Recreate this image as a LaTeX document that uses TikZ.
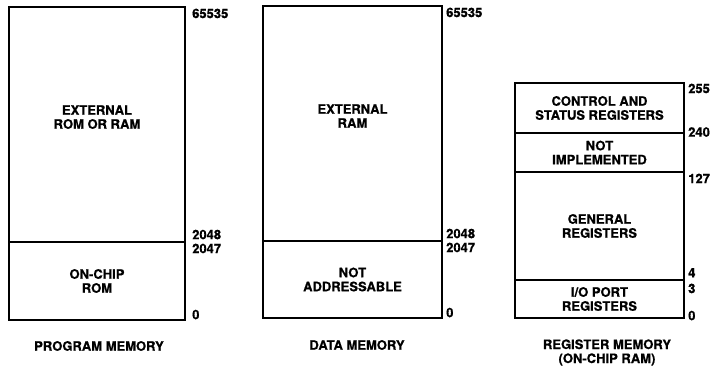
\documentclass[tikz,border=0pt]{standalone}
\usepackage{fontspec}
\setmainfont[BoldFeatures={FakeBold=0.6}]{TeX Gyre Heros}
\usetikzlibrary{positioning}
\newcommand{\memfont}{\fontsize{13}{14}\selectfont\bfseries}
\tikzset{
  region/.style ={draw, line width=2.6pt, align=center, font=\memfont, inner sep=0pt, outer sep=0pt},
  addr/.style   ={font=\memfont, inner sep=0pt},
  caption/.style={font=\memfont, align=center},
}

\begin{document}
\begin{tikzpicture}[x=1pt, y=-1pt]
  \useasboundingbox (0,0) rectangle (720,368);
  % program memory
  \node[region, minimum width=176pt, minimum height=235pt, text depth=15pt] (extrom) at (97,124.5) {EXTERNAL\\ROM OR RAM};
  \node[region, minimum width=176pt, minimum height=78pt, below=0pt of extrom] (onchip) {ON-CHIP\\ROM};
  \node[addr, anchor=north west] (p65535) at ([xshift=7pt,yshift=-1.5pt]extrom.north east) {65535};
  \node[addr, anchor=south west] (p2048) at ([xshift=7pt,yshift=2.5pt]extrom.south east) {2048};
  \node[addr, anchor=north west] (p2047) at ([xshift=7pt,yshift=-1.5pt]onchip.north east) {2047};
  \node[addr, anchor=south west] (p0) at ([xshift=7pt,yshift=0.5pt]onchip.south east) {0};
  \node[caption] (progmem) at (99,346) {PROGRAM MEMORY};
  % data memory
  \node[region, minimum width=179pt, minimum height=235pt, text depth=15pt] (extram) at (352.5,123.5) {EXTERNAL\\RAM};
  \node[region, minimum width=179pt, minimum height=77pt, below=0pt of extram] (notaddr) {NOT\\ADDRESSABLE};
  \node[addr, anchor=north west] (d65535) at ([xshift=4pt,yshift=-1.5pt]extram.north east) {65535};
  \node[addr, anchor=south west] (d2048) at ([xshift=4pt,yshift=2.5pt]extram.south east) {2048};
  \node[addr, anchor=north west] (d2047) at ([xshift=4pt,yshift=-1.5pt]notaddr.north east) {2047};
  \node[addr, anchor=south west] (d0) at ([xshift=4pt,yshift=0.5pt]notaddr.south east) {0};
  \node[caption] (datamem) at (357,345) {DATA MEMORY};
  % register memory
  \node[region, minimum width=169pt, minimum height=50pt] (ctrl) at (599.5,108) {CONTROL AND\\STATUS REGISTERS};
  \node[region, minimum width=169pt, minimum height=39pt, below=0pt of ctrl] (notimpl) {NOT\\IMPLEMENTED};
  \node[region, minimum width=169pt, minimum height=108pt, below=0pt of notimpl] (general) {GENERAL\\REGISTERS};
  \node[region, minimum width=169pt, minimum height=38pt, below=0pt of general] (ioport) {I/O PORT\\REGISTERS};
  \node[addr, anchor=north west] (r255) at ([xshift=4pt,yshift=-0.5pt]ctrl.north east) {255};
  \node[addr, anchor=west] (r240) at ([xshift=4pt,yshift=1pt]ctrl.south east) {240};
  \node[addr, anchor=north west] (r127) at ([xshift=4pt,yshift=-1.5pt]notimpl.south east) {127};
  \node[addr, anchor=south west] (r4) at ([xshift=4pt,yshift=2.5pt]general.south east) {4};
  \node[addr, anchor=north west] (r3) at ([xshift=4pt,yshift=-3.5pt]ioport.north east) {3};
  \node[addr, anchor=south west] (r0) at ([xshift=4pt,yshift=-2.5pt]ioport.south east) {0};
  \node[caption] (regmem) at (607,352.5) {REGISTER MEMORY\\(ON-CHIP RAM)};
\end{tikzpicture}
\end{document}
